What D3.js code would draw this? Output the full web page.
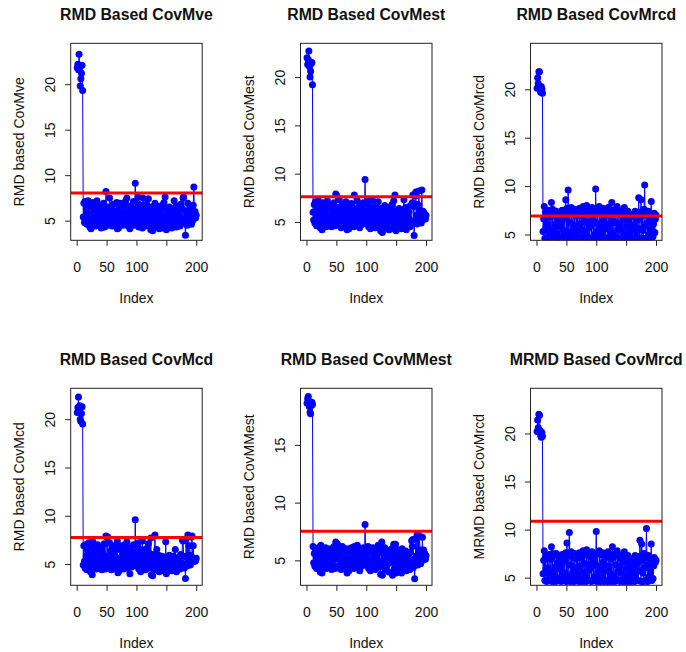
<!DOCTYPE html>
<html>
<head>
<meta charset="utf-8">
<script src="https://cdn.jsdelivr.net/npm/d3@7"></script>
<style>
  body { margin: 0; background: #fff; }
  text { font-family: "Liberation Sans", Arial, sans-serif; fill: #111; }
  .title { font-weight: bold; font-size: 15.8px; }
  .axis text, .label { font-size: 14px; }
  .axis line { stroke: #222; }
</style>
</head>
<body>
<svg id="plots" width="686" height="652"></svg>
<script>

// panel texts
const titles = ['RMD Based CovMve', 'RMD Based CovMest', 'RMD Based CovMrcd',
                'RMD Based CovMcd', 'RMD Based CovMMest', 'MRMD Based CovMrcd'];
const yLabels = ['RMD based CovMve', 'RMD based CovMest', 'RMD based CovMrcd',
                 'RMD based CovMcd', 'RMD based CovMMest', 'MRMD based CovMrcd'];

// red cut-off lines
const cutoffs = [8.03, 7.6, 6.9, 7.74, 7.53, 10.86];

// axis ranges and ticks
const xLimit = [-10, 210];
const xTicks = [0, 50, 100, 150, 200];
const xTickLabels = ['0', '50', '100', '', '200'];
const yLimits = [[2.84, 24.5], [3.1, 23.5], [4.4, 24.75], [2.8, 23.2], [2.84, 19.9], [4.2, 24.7]];
const yTicks = [[5, 10, 15, 20], [5, 10, 15, 20], [5, 10, 15, 20],
                [5, 10, 15, 20], [5, 10, 15], [5, 10, 15, 20]];

// distances, index 1..200
const rmdMve = [
  21.8, 22.2, 21.6, 23.3, 21.9, 19.8, 20.6, 21.2, 22.1, 19.3,
  5.4, 6.9, 4.8, 7.1, 5.2, 6.3, 4.6, 5.9, 7.2, 5.0,
  6.5, 4.3, 5.7, 4.1, 6.8, 5.3, 7.0, 4.7, 6.1, 5.5,
  4.4, 6.6, 5.1, 7.2, 4.9, 6.0, 5.6, 4.5, 6.7, 5.2,
  4.2, 6.4, 5.8, 4.6, 6.9, 5.0, 4.3, 6.2, 8.2, 5.4,
  4.8, 6.5, 5.3, 4.5, 7.5, 5.9, 4.7, 6.3, 5.1, 4.4,
  6.8, 5.6, 4.9, 6.1, 5.2, 4.6, 7.0, 4.1, 5.7, 4.2,
  6.4, 5.0, 6.9, 4.8, 5.5, 6.2, 4.5, 5.9, 6.7, 4.9,
  5.3, 7.2, 4.6, 7.5, 5.8, 4.4, 6.0, 5.1, 4.1, 6.6,
  5.4, 4.7, 6.3, 5.0, 7.1, 4.5, 5.7, 9.1, 6.2, 4.8,
  5.5, 6.9, 7.6, 4.3, 6.1, 5.2, 4.6, 6.7, 5.0, 4.2,
  7.5, 5.6, 4.9, 6.4, 4.4, 5.9, 6.8, 4.7, 5.3, 7.4,
  4.5, 6.0, 5.1, 4.0, 6.5, 5.4, 3.9, 6.2, 4.8, 5.7,
  6.9, 4.3, 5.5, 6.6, 4.6, 5.0, 6.1, 4.1, 5.8, 6.4,
  4.9, 5.3, 6.7, 4.2, 5.6, 7.0, 4.4, 7.6, 5.2, 4.0,
  6.3, 5.0, 4.7, 5.9, 6.5, 4.5, 5.4, 6.0, 4.2, 5.7,
  4.9, 6.2, 7.2, 4.6, 5.1, 6.6, 4.3, 5.8, 5.3, 4.8,
  6.1, 5.5, 4.4, 6.8, 5.0, 4.7, 6.3, 7.5, 7.6, 5.2,
  4.9, 3.4, 6.0, 5.6, 4.5, 6.9, 5.3, 4.8, 6.4, 5.1,
  5.8, 4.6, 6.2, 5.0, 6.7, 8.7, 5.5, 6.0, 5.3, 5.6
];
const rmdMest = [
  22.0, 21.3, 21.8, 22.7, 21.1, 20.0, 20.6, 21.4, 21.5, 19.2,
  6.0, 5.2, 6.8, 4.9, 7.1, 5.5, 4.6, 6.3, 5.1, 7.2,
  4.7, 5.9, 4.4, 6.6, 5.3, 4.2, 7.0, 5.6, 4.8, 6.2,
  5.0, 6.9, 4.5, 5.7, 7.2, 5.2, 4.6, 6.4, 5.5, 4.9,
  6.7, 4.5, 5.8, 6.1, 4.8, 7.0, 5.3, 4.6, 7.9, 7.8,
  5.4, 6.5, 4.7, 5.9, 7.3, 5.1, 6.2, 4.4, 5.6, 6.8,
  4.9, 5.5, 6.3, 4.6, 5.2, 7.1, 4.8, 4.2, 6.0, 5.4,
  4.3, 6.6, 5.0, 5.7, 6.9, 4.7, 5.3, 6.1, 4.5, 7.8,
  5.8, 4.9, 6.4, 5.1, 7.2, 4.6, 5.5, 6.7, 4.4, 6.0,
  5.2, 4.7, 6.3, 5.6, 7.0, 4.9, 5.4, 9.4, 6.1, 4.8,
  5.7, 6.8, 7.3, 4.5, 6.0, 5.3, 4.3, 6.5, 5.0, 4.6,
  7.2, 5.5, 4.8, 6.2, 4.4, 5.9, 6.6, 4.7, 5.2, 7.1,
  4.6, 6.1, 5.0, 4.1, 6.4, 5.6, 3.9, 6.0, 4.9, 5.5,
  6.7, 4.4, 5.3, 6.5, 4.8, 5.1, 6.2, 4.2, 5.7, 6.3,
  5.0, 5.4, 6.8, 4.3, 5.8, 7.2, 4.6, 7.8, 5.3, 4.1,
  6.1, 5.1, 4.8, 5.7, 6.4, 4.6, 5.5, 6.0, 4.3, 5.9,
  4.9, 6.3, 7.3, 4.7, 5.2, 6.5, 4.2, 5.6, 5.4, 4.8,
  6.0, 5.3, 4.5, 6.7, 5.1, 4.9, 7.0, 7.8, 6.6, 3.6,
  5.0, 7.7, 8.1, 5.7, 4.8, 6.8, 5.4, 8.2, 6.2, 5.1,
  5.9, 4.9, 8.3, 5.2, 6.1, 6.0, 5.5, 5.8, 5.3, 5.7
];
const rmdMrcd = [
  20.1, 21.2, 20.6, 21.8, 21.8, 20.0, 19.7, 20.3, 20.0, 19.6,
  5.3, 6.6, 7.9, 4.6, 7.3, 5.8, 4.5, 7.0, 6.1, 4.7,
  7.5, 5.2, 4.6, 6.8, 8.3, 4.5, 7.6, 5.5, 4.8, 7.2,
  6.0, 4.5, 7.4, 5.1, 4.7, 6.5, 7.3, 4.6, 5.8, 7.0,
  4.5, 6.3, 7.5, 4.8, 5.4, 7.1, 4.6, 6.7, 8.6, 4.5,
  7.7, 5.0, 9.6, 4.6, 7.4, 6.2, 4.5, 7.8, 5.3, 4.7,
  7.2, 6.0, 4.5, 7.6, 5.6, 4.6, 6.9, 4.8, 7.4, 5.2,
  4.5, 7.7, 6.1, 4.7, 7.0, 5.5, 4.5, 7.9, 6.4, 4.6,
  7.3, 5.1, 4.5, 8.0, 6.3, 4.7, 7.5, 5.7, 4.6, 7.1,
  5.9, 4.5, 7.8, 6.6, 4.6, 7.2, 5.0, 4.7, 9.7, 6.2,
  4.5, 7.6, 5.4, 4.6, 7.9, 6.0, 4.5, 7.3, 5.2, 4.8,
  7.7, 6.5, 4.5, 7.4, 5.6, 4.6, 7.0, 5.9, 4.5, 7.8,
  6.1, 4.7, 7.5, 5.3, 4.5, 8.3, 6.4, 4.6, 7.2, 5.0,
  4.5, 7.6, 6.2, 4.7, 7.9, 5.5, 4.6, 7.3, 6.0, 4.5,
  7.1, 5.4, 4.6, 7.5, 6.6, 4.5, 7.8, 5.1, 4.7, 7.2,
  5.8, 4.5, 7.4, 6.3, 4.6, 7.0, 5.2, 4.5, 6.8, 5.7,
  4.6, 7.1, 6.0, 4.5, 7.4, 5.3, 4.7, 7.2, 6.5, 4.6,
  8.8, 5.6, 4.5, 7.3, 8.6, 4.6, 6.9, 5.4, 4.5, 7.6,
  10.1, 5.9, 4.6, 7.1, 6.2, 4.5, 7.4, 5.0, 4.7, 6.8,
  5.5, 8.4, 4.6, 7.0, 4.8, 6.1, 7.2, 5.2, 6.6, 7.0
];
const rmdMcd = [
  20.7, 21.2, 22.3, 20.9, 21.4, 20.0, 19.8, 20.6, 21.3, 19.5,
  4.9, 6.9, 5.3, 4.6, 7.0, 5.8, 4.4, 6.5, 5.1, 7.2,
  4.7, 5.9, 4.2, 6.7, 5.4, 3.9, 7.3, 5.6, 4.8, 6.2,
  5.0, 6.8, 4.5, 5.7, 7.0, 5.2, 4.6, 6.4, 5.5, 4.9,
  6.6, 4.4, 5.8, 6.1, 4.7, 7.1, 5.3, 4.5, 7.9, 7.8,
  5.4, 7.8, 4.7, 5.9, 7.2, 5.1, 6.3, 4.4, 5.6, 6.8,
  4.9, 5.5, 6.3, 4.6, 5.2, 7.0, 4.8, 7.4, 4.1, 5.4,
  4.3, 6.5, 5.0, 5.7, 6.9, 4.7, 5.3, 6.1, 4.5, 7.0,
  5.8, 4.9, 6.4, 7.3, 5.1, 4.6, 5.5, 6.7, 4.0, 6.0,
  5.2, 4.7, 6.3, 5.6, 7.0, 4.9, 5.4, 9.6, 6.1, 4.8,
  5.7, 6.8, 7.2, 4.5, 6.0, 5.3, 4.2, 6.5, 5.0, 7.4,
  4.6, 5.5, 4.8, 6.2, 4.4, 5.9, 6.6, 4.7, 5.2, 7.1,
  4.6, 6.1, 5.0, 7.7, 3.9, 5.6, 3.8, 6.0, 4.9, 5.5,
  8.0, 4.4, 5.3, 6.5, 4.8, 5.1, 5.9, 4.2, 5.7, 5.4,
  5.0, 4.6, 5.8, 4.3, 5.2, 5.6, 4.6, 5.1, 7.3, 4.0,
  5.6, 5.1, 4.8, 5.4, 5.9, 4.6, 5.3, 5.7, 4.3, 5.5,
  4.9, 5.8, 5.2, 4.7, 6.5, 5.0, 4.2, 5.4, 5.6, 4.8,
  5.7, 5.3, 4.5, 6.0, 5.1, 4.9, 7.5, 7.4, 5.8, 4.6,
  5.0, 3.5, 7.6, 5.7, 4.8, 8.0, 5.4, 6.9, 5.2, 4.9,
  5.9, 7.8, 7.9, 5.2, 6.9, 5.6, 5.5, 5.3, 5.4, 5.6
];
const rmdMMest = [
  18.6, 19.0, 19.2, 18.8, 18.3, 17.8, 17.7, 18.4, 18.7, 18.5,
  6.2, 4.8, 5.6, 4.5, 6.0, 5.2, 4.3, 5.8, 4.9, 6.1,
  4.4, 5.5, 4.0, 6.3, 5.0, 3.9, 6.0, 5.3, 4.6, 5.7,
  4.8, 6.1, 4.3, 5.4, 6.0, 5.0, 4.4, 5.9, 5.2, 4.6,
  6.0, 4.2, 5.5, 5.8, 4.5, 6.2, 5.1, 4.3, 6.6, 6.5,
  5.2, 6.4, 4.5, 5.6, 6.1, 4.9, 5.8, 4.2, 5.3, 6.2,
  4.6, 5.2, 5.9, 4.4, 5.0, 6.0, 4.6, 3.9, 5.7, 5.1,
  4.1, 6.0, 4.8, 5.4, 6.1, 4.5, 5.0, 5.8, 4.3, 6.2,
  5.5, 4.6, 5.9, 4.8, 6.3, 4.4, 5.2, 6.0, 4.1, 5.7,
  4.9, 4.5, 5.8, 5.3, 6.1, 4.6, 5.1, 8.1, 5.6, 4.6,
  5.4, 6.0, 6.2, 4.3, 5.7, 5.0, 4.1, 5.9, 4.8, 4.4,
  6.1, 5.2, 4.6, 5.8, 4.2, 5.5, 6.0, 4.5, 5.0, 6.3,
  4.4, 5.7, 4.8, 3.8, 6.0, 6.6, 3.7, 5.6, 4.7, 5.2,
  6.1, 4.2, 5.0, 5.9, 4.6, 4.9, 5.8, 4.0, 5.4, 5.9,
  4.8, 5.1, 6.0, 3.7, 5.5, 6.4, 4.3, 5.2, 6.4, 3.9,
  5.8, 4.8, 4.5, 5.4, 5.9, 4.3, 5.1, 5.7, 3.9, 6.0,
  4.6, 5.6, 5.2, 4.4, 4.9, 5.8, 4.1, 5.3, 5.0, 4.5,
  5.6, 5.0, 4.2, 5.7, 4.8, 6.7, 6.2, 6.8, 4.4, 5.1,
  3.4, 5.0, 6.9, 5.4, 7.2, 4.6, 7.2, 5.0, 7.1, 5.8,
  4.7, 5.9, 5.3, 7.0, 5.0, 5.9, 5.3, 5.6, 5.1, 5.4
];
const mrmdMrcd = [
  20.2, 21.4, 20.6, 22.0, 21.9, 20.3, 19.8, 19.6, 20.1, 19.7,
  5.4, 6.8, 7.8, 4.7, 7.2, 5.9, 4.6, 7.1, 6.0, 4.8,
  7.4, 5.3, 4.7, 6.9, 8.2, 4.6, 7.5, 5.6, 4.9, 7.3,
  6.1, 4.6, 7.5, 5.0, 4.8, 6.6, 7.2, 4.7, 5.9, 7.1,
  4.6, 6.4, 7.4, 4.9, 5.5, 7.0, 4.7, 6.8, 7.6, 4.6,
  8.6, 5.1, 4.8, 7.3, 9.7, 6.3, 4.6, 7.7, 5.4, 4.8,
  7.1, 6.1, 4.6, 7.5, 5.7, 4.7, 7.0, 4.9, 7.3, 5.3,
  4.6, 7.6, 6.2, 4.8, 7.1, 5.6, 4.6, 7.8, 6.5, 4.7,
  7.4, 5.2, 4.6, 7.9, 6.4, 4.8, 7.6, 5.8, 4.7, 7.2,
  6.0, 4.6, 7.7, 6.7, 4.7, 7.3, 5.1, 4.8, 6.3, 9.8,
  4.6, 7.5, 5.5, 4.7, 7.8, 6.1, 4.6, 7.4, 5.3, 4.9,
  7.6, 6.6, 4.6, 7.3, 5.7, 4.7, 7.1, 6.0, 4.6, 7.7,
  6.2, 4.8, 7.4, 5.4, 4.6, 7.0, 8.2, 4.7, 7.3, 5.1,
  4.6, 7.5, 6.3, 4.8, 7.8, 5.6, 4.7, 7.2, 6.1, 4.6,
  7.0, 5.5, 4.7, 7.4, 6.7, 4.6, 7.7, 5.2, 4.8, 7.1,
  5.9, 4.6, 7.3, 6.4, 4.7, 6.9, 5.3, 4.6, 6.7, 5.8,
  4.7, 7.0, 6.1, 4.6, 7.3, 5.4, 4.8, 7.1, 6.6, 4.7,
  7.2, 5.7, 8.9, 7.2, 4.6, 8.5, 6.8, 5.5, 4.6, 7.5,
  6.0, 4.7, 7.1, 10.1, 6.3, 4.6, 7.3, 5.1, 4.8, 6.9,
  5.6, 8.5, 4.7, 6.9, 4.9, 6.2, 7.1, 6.8, 6.6, 6.8
];

const series = [rmdMve, rmdMest, rmdMrcd, rmdMcd, rmdMMest, mrmdMrcd];

d3.select(window).on('load', init);

function init() {

    let svg = d3.select('#plots'),
        colLeft = [70.7, 300.5, 530.5],
        rowTop = [43.3, 388.3],
        boxW = 131.5,
        boxH = 197;

    series.forEach((values, i) => {
        let left = colLeft[i % 3],
            top = rowTop[Math.floor(i / 3)];

        let x = d3.scaleLinear().domain(xLimit).range([0, boxW]),
            y = d3.scaleLinear().domain(yLimits[i]).range([boxH, 0]);

        let g = svg.append('g')
            .attr('transform', 'translate(' + left + ',' + top + ')');

        g.append('clipPath')
            .attr('id', 'clip' + i)
            .append('rect')
            .attr('width', boxW)
            .attr('height', boxH);

        let plot = g.append('g').attr('clip-path', 'url(#clip' + i + ')');

        let line = d3.line()
            .x((d, k) => x(k + 1))
            .y(d => y(d));

        plot.append('path')
            .datum(values)
            .attr('d', line)
            .attr('fill', 'none')
            .attr('stroke', '#0000ff')
            .attr('stroke-width', 1);

        plot.selectAll('.point')
            .data(values)
            .enter()
            .append('circle')
            .attr('class', 'point')
            .attr('cx', (d, k) => x(k + 1))
            .attr('cy', d => y(d))
            .attr('r', 3.5)
            .attr('fill', '#0000ff');

        plot.append('line')
            .attr('x1', 0)
            .attr('x2', boxW)
            .attr('y1', y(cutoffs[i]))
            .attr('y2', y(cutoffs[i]))
            .attr('stroke', '#ff0000')
            .attr('stroke-width', 3);

        // x axis
        g.append('g')
            .attr('class', 'axis')
            .attr('transform', 'translate(0,' + boxH + ')')
            .call(d3.axisBottom(x)
                .tickValues(xTicks)
                .tickFormat((d, k) => xTickLabels[k])
                .tickSizeOuter(0)
                .tickSize(5.5)
                .tickPadding(16))
            .call(a => a.select('.domain').remove());

        // y axis, labels parallel to the axis
        g.append('g')
            .attr('class', 'axis')
            .call(d3.axisLeft(y)
                .tickValues(yTicks[i])
                .tickSizeOuter(0)
                .tickSize(5.5))
            .call(a => a.select('.domain').remove())
            .selectAll('text')
            .attr('x', null)
            .attr('dy', null)
            .attr('text-anchor', 'middle')
            .attr('transform', 'translate(-16,0) rotate(-90)');

        g.append('rect')
            .attr('width', boxW)
            .attr('height', boxH)
            .attr('fill', 'none')
            .attr('stroke', '#222')
            .attr('stroke-width', 1);

        g.append('text')
            .attr('class', 'title')
            .attr('x', boxW / 2)
            .attr('y', -23)
            .attr('text-anchor', 'middle')
            .text(titles[i]);

        g.append('text')
            .attr('class', 'label')
            .attr('x', boxW / 2)
            .attr('y', boxH + 63)
            .attr('text-anchor', 'middle')
            .text('Index');

        g.append('text')
            .attr('class', 'label')
            .attr('text-anchor', 'middle')
            .attr('transform', 'translate(-46.7,' + (boxH / 2) + ') rotate(-90)')
            .text(yLabels[i]);
    });
}
</script>
</body>
</html>
